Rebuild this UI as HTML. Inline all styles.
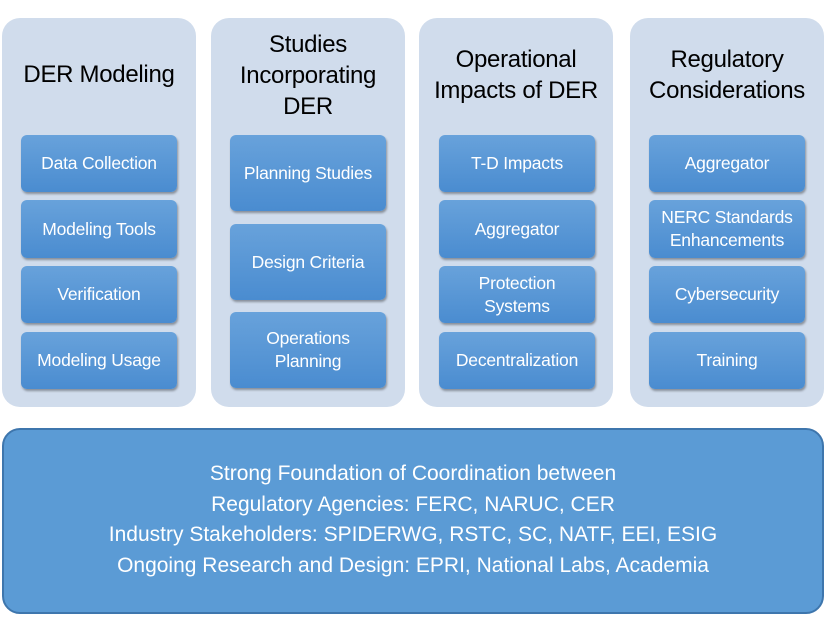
<!DOCTYPE html>
<html><head><style>
body{margin:0;width:826px;height:620px;background:#fff;position:relative;font-family:"Liberation Sans",sans-serif;overflow:hidden}
.col{position:absolute;top:18px;width:194px;height:389px;background:#d0dcec;border-radius:18px}
.t{position:absolute;left:0;width:100%;text-align:center;font-size:24px;line-height:31px;color:#000;letter-spacing:-0.3px}
.b{position:absolute;width:156px;border-radius:6px;background:linear-gradient(#68a2db,#4a8cd0);box-shadow:1px 2px 2px rgba(0,0,0,0.35);color:#fff;font-size:17.5px;line-height:23px;display:flex;align-items:center;justify-content:center;text-align:center;letter-spacing:-0.2px}
.bot{position:absolute;left:2px;top:428px;width:818px;height:182px;background:#5b9bd5;border:2px solid #3e76ad;border-radius:18px;color:#fff;text-align:center;font-size:21px;line-height:30.5px;box-sizing:content-box}
</style></head><body>
<div class="col" style="left:2px"><div class="t" style="top:41px">DER Modeling</div></div>
<div class="col" style="left:211px"><div class="t" style="top:11px">Studies<br>Incorporating<br>DER</div></div>
<div class="col" style="left:419px"><div class="t" style="top:26px">Operational<br>Impacts of DER</div></div>
<div class="col" style="left:630px"><div class="t" style="top:26px">Regulatory<br>Considerations</div></div>

<div class="b" style="left:21px;top:135px;height:57px">Data Collection</div>
<div class="b" style="left:21px;top:200px;height:58px">Modeling Tools</div>
<div class="b" style="left:21px;top:266px;height:57px">Verification</div>
<div class="b" style="left:21px;top:332px;height:57px">Modeling Usage</div>

<div class="b" style="left:230px;top:135px;height:76px">Planning Studies</div>
<div class="b" style="left:230px;top:224px;height:76px">Design Criteria</div>
<div class="b" style="left:230px;top:312px;height:76px">Operations<br>Planning</div>

<div class="b" style="left:439px;top:135px;height:57px">T-D Impacts</div>
<div class="b" style="left:439px;top:200px;height:58px">Aggregator</div>
<div class="b" style="left:439px;top:266px;height:57px">Protection<br>Systems</div>
<div class="b" style="left:439px;top:332px;height:57px">Decentralization</div>

<div class="b" style="left:649px;top:135px;height:57px">Aggregator</div>
<div class="b" style="left:649px;top:200px;height:58px">NERC Standards<br>Enhancements</div>
<div class="b" style="left:649px;top:266px;height:57px">Cybersecurity</div>
<div class="b" style="left:649px;top:332px;height:57px">Training</div>

<div class="bot"><div style="padding-top:29px">Strong Foundation of Coordination between<br>Regulatory Agencies: FERC, NARUC, CER<br>Industry Stakeholders: SPIDERWG, RSTC, SC, NATF, EEI, ESIG<br>Ongoing Research and Design: EPRI, National Labs, Academia</div></div>
</body></html>
